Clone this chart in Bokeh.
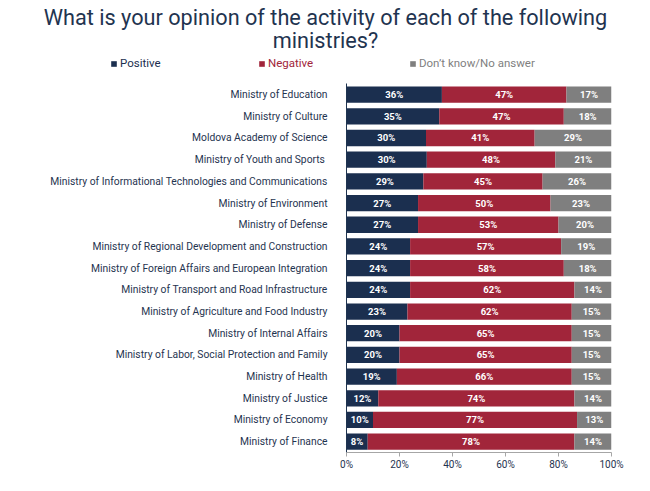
from bokeh.plotting import figure
from bokeh.models import (ColumnDataSource, Legend, LegendItem, Label, FixedTicker,
                          PrintfTickFormatter, Range1d)
from bokeh.core.properties import value
from bokeh.embed import file_html
from bokeh.resources import INLINE

categories = [
    "Ministry of Education",
    "Ministry of Culture",
    "Moldova Academy of Science",
    "Ministry of Youth and Sports ",
    "Ministry of Informational Technologies and Communications",
    "Ministry of Environment",
    "Ministry of Defense",
    "Ministry of Regional Development and Construction",
    "Ministry of Foreign Affairs and European Integration",
    "Ministry of Transport and Road Infrastructure",
    "Ministry of Agriculture and Food Industry",
    "Ministry of Internal Affairs",
    "Ministry of Labor, Social Protection and Family",
    "Ministry of Health",
    "Ministry of Justice",
    "Ministry of Economy",
    "Ministry of Finance",
]
positive = [36, 35, 30, 30, 29, 27, 27, 24, 24, 24, 23, 20, 20, 19, 12, 10, 8]
negative = [47, 47, 41, 48, 45, 50, 53, 57, 58, 62, 62, 65, 65, 66, 74, 77, 78]
dont_know = [17, 18, 29, 21, 26, 23, 20, 19, 18, 14, 15, 15, 15, 15, 14, 13, 14]
series_names = ["Positive", "Negative", "Don\u2019t know/No answer"]
tick_values = [0, 20, 40, 60, 80, 100]
title_lines = ["What is your opinion of the activity of each of the following", "ministries?"]

colors = ["#1b2f4f", "#a1253a", "#7f7f7f"]
text_dark = "#1f3450"
FONT = "Roboto"

# layout constants (pixels)
W, H = 634, 475
BORDER_R, BORDER_B = 23, 23
AXIS_PX = 346          # pixel where 0% sits
ROW_PX = 21.69         # row pitch
frame_w = W - BORDER_R
frame_h = H - BORDER_B
px_per_pct = (frame_w - AXIS_PX) / 100.0

n = len(categories)
ypos = [n - 1 - i for i in range(n)]   # first category on top

# stacked extents (normalized to 100%)
series = [positive, negative, dont_know]
lefts, rights, mids, labels = [], [], [], []
for s_idx in range(3):
    l, r, m, lab = [], [], [], []
    for i in range(n):
        tot = positive[i] + negative[i] + dont_know[i]
        start = sum(series[k][i] for k in range(s_idx)) / tot * 100
        end = start + series[s_idx][i] / tot * 100
        l.append(start); r.append(end); m.append((start + end) / 2)
        lab.append(f"{series[s_idx][i]}%")
    lefts.append(l); rights.append(r); mids.append(m); labels.append(lab)

p = figure(
    width=W, height=H,
    x_range=Range1d(-AXIS_PX / px_per_pct, 100),
    y_range=Range1d(-0.5, -0.5 + frame_h / ROW_PX),
    output_backend="svg", toolbar_location=None,
    min_border_left=0, min_border_right=BORDER_R,
    min_border_top=0, min_border_bottom=BORDER_B,
)
p.outline_line_color = None
p.xgrid.grid_line_color = None
p.ygrid.grid_line_color = None

renderers = []
for s_idx in range(3):
    src = ColumnDataSource(dict(y=ypos, left=lefts[s_idx], right=rights[s_idx],
                                mid=mids[s_idx], lab=labels[s_idx]))
    r = p.hbar(y="y", left="left", right="right", height=0.75, source=src,
               fill_color=colors[s_idx], line_color=None)
    renderers.append(r)
    p.text(x="mid", y="y", text="lab", source=src, text_align="center",
           text_baseline="middle", text_color="white", text_font_size="9.5px",
           text_font_style="bold", text_font=value(FONT))

# y axis: category labels, fixed at 0%
p.yaxis.fixed_location = 0
p.yaxis.bounds = (-0.5, n - 0.5)
p.yaxis.ticker = FixedTicker(ticks=ypos)
p.yaxis.major_label_overrides = {y: c for y, c in zip(ypos, categories)}
p.yaxis.major_tick_line_color = None
p.yaxis.minor_tick_line_color = None
p.yaxis.axis_line_color = text_dark
p.yaxis.major_label_standoff = 13
p.yaxis.major_label_text_font = FONT
p.yaxis.major_label_text_font_size = "10.3px"
p.yaxis.major_label_text_color = text_dark

# x axis
p.xaxis.bounds = (0, 100)
p.xaxis.ticker = FixedTicker(ticks=tick_values)
p.xaxis.formatter = PrintfTickFormatter(format="%d%%")
p.xaxis.axis_line_color = "#a6a6a6"
p.xaxis.major_tick_line_color = "#a6a6a6"
p.xaxis.major_tick_in = 0
p.xaxis.major_tick_out = 4
p.xaxis.minor_tick_line_color = None
p.xaxis.major_label_text_font = FONT
p.xaxis.major_label_text_font_size = "10px"
p.xaxis.major_label_text_color = text_dark
p.xaxis.major_label_standoff = 2

# title (two centred lines)
for txt, yy in zip(title_lines, [17, 40]):
    p.add_layout(Label(x=325, y=frame_h - yy, x_units="screen", y_units="screen", text=txt,
                       text_align="center", text_baseline="middle",
                       text_font=FONT, text_font_size="21.7px", text_color=text_dark))

# legend: one per series so each label takes its series colour
leg_x = [110, 258, 409]
for s_idx in range(3):
    lg = Legend(items=[LegendItem(label=series_names[s_idx], renderers=[renderers[s_idx]])],
                location=(leg_x[s_idx], frame_h - 70), orientation="horizontal",
                border_line_color=None, background_fill_alpha=0,
                padding=0, margin=0, glyph_width=7, glyph_height=7, label_standoff=3,
                label_text_font=FONT, label_text_font_size="11.5px",
                label_text_color=colors[s_idx], label_height=12)
    p.add_layout(lg, "center")

open("out.html", "w").write(file_html(p, INLINE))
